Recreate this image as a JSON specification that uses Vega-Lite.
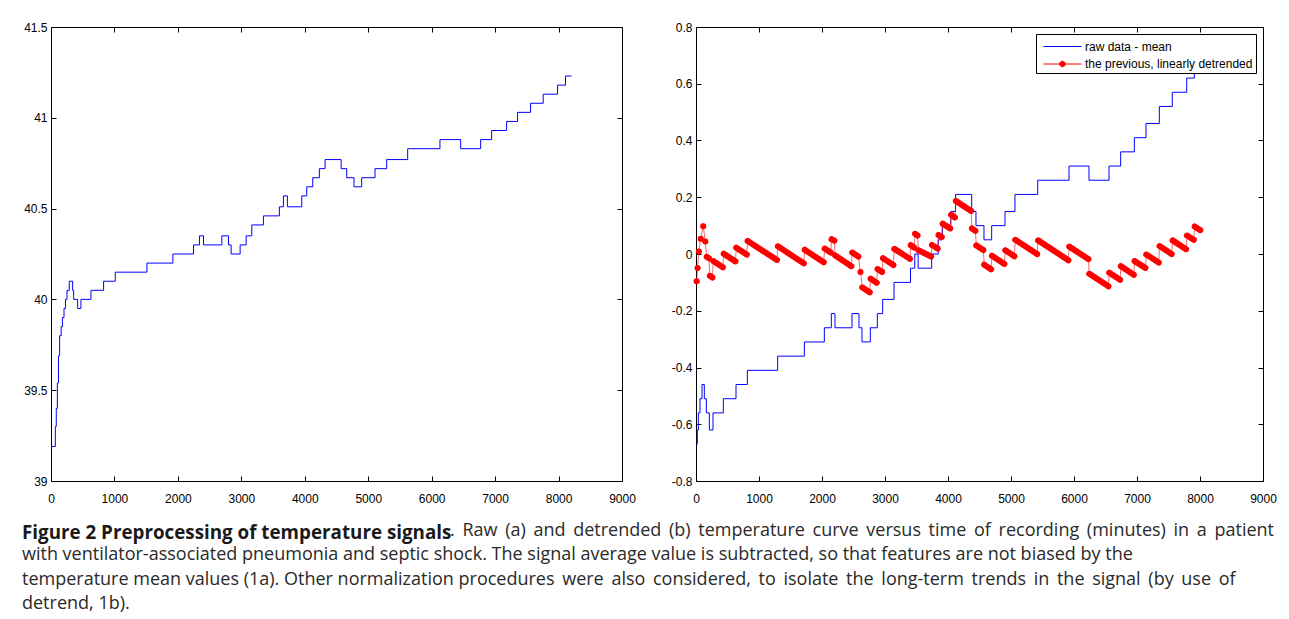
{
  "$schema": "https://vega.github.io/schema/vega-lite/v6.json",
  "padding": {"left": 22, "top": 21, "right": 5, "bottom": 2},
  "spacing": 74,
  "bounds": "flush",
  "resolve": {"legend": {"color": "independent", "shape": "independent"}},
  "datasets": {
    "raw": [
      {"t": 0, "temp": 39.19}, {"t": 68, "temp": 39.30}, {"t": 83, "temp": 39.40}, {"t": 100, "temp": 39.54},
      {"t": 118, "temp": 39.69}, {"t": 136, "temp": 39.80}, {"t": 160, "temp": 39.85}, {"t": 180, "temp": 39.90},
      {"t": 205, "temp": 39.95}, {"t": 228, "temp": 40.00}, {"t": 252, "temp": 40.05}, {"t": 288, "temp": 40.10},
      {"t": 341, "temp": 40.05}, {"t": 357, "temp": 40.00}, {"t": 420, "temp": 39.95}, {"t": 472, "temp": 40.00},
      {"t": 630, "temp": 40.05}, {"t": 829, "temp": 40.10}, {"t": 1013, "temp": 40.15}, {"t": 1512, "temp": 40.20},
      {"t": 1921, "temp": 40.25}, {"t": 2246, "temp": 40.30}, {"t": 2340, "temp": 40.35}, {"t": 2404, "temp": 40.30},
      {"t": 2693, "temp": 40.35}, {"t": 2797, "temp": 40.30}, {"t": 2839, "temp": 40.25}, {"t": 2981, "temp": 40.30},
      {"t": 3076, "temp": 40.35}, {"t": 3165, "temp": 40.41}, {"t": 3348, "temp": 40.46}, {"t": 3600, "temp": 40.51},
      {"t": 3663, "temp": 40.57}, {"t": 3726, "temp": 40.51}, {"t": 3953, "temp": 40.57}, {"t": 4031, "temp": 40.62},
      {"t": 4126, "temp": 40.67}, {"t": 4230, "temp": 40.72}, {"t": 4320, "temp": 40.77}, {"t": 4573, "temp": 40.72},
      {"t": 4661, "temp": 40.67}, {"t": 4776, "temp": 40.62}, {"t": 4897, "temp": 40.67}, {"t": 5107, "temp": 40.72},
      {"t": 5291, "temp": 40.77}, {"t": 5622, "temp": 40.83}, {"t": 6131, "temp": 40.88}, {"t": 6457, "temp": 40.83},
      {"t": 6772, "temp": 40.88}, {"t": 6945, "temp": 40.93}, {"t": 7181, "temp": 40.98}, {"t": 7354, "temp": 41.03},
      {"t": 7559, "temp": 41.08}, {"t": 7758, "temp": 41.13}, {"t": 7984, "temp": 41.18}, {"t": 8110, "temp": 41.23},
      {"t": 8205, "temp": 41.23}
    ],
    "centered": [
      {"t": 0, "v": -0.67}, {"t": 21, "v": -0.62}, {"t": 37, "v": -0.56}, {"t": 63, "v": -0.51},
      {"t": 95, "v": -0.46}, {"t": 132, "v": -0.51}, {"t": 164, "v": -0.56}, {"t": 212, "v": -0.62},
      {"t": 270, "v": -0.56}, {"t": 434, "v": -0.51}, {"t": 635, "v": -0.46}, {"t": 815, "v": -0.41},
      {"t": 1296, "v": -0.36}, {"t": 1720, "v": -0.31}, {"t": 2037, "v": -0.26}, {"t": 2148, "v": -0.21},
      {"t": 2206, "v": -0.26}, {"t": 2476, "v": -0.21}, {"t": 2587, "v": -0.26}, {"t": 2635, "v": -0.31},
      {"t": 2767, "v": -0.26}, {"t": 2878, "v": -0.21}, {"t": 2963, "v": -0.16}, {"t": 3143, "v": -0.10},
      {"t": 3405, "v": -0.05}, {"t": 3473, "v": 0.00}, {"t": 3526, "v": -0.05}, {"t": 3741, "v": 0.00},
      {"t": 3845, "v": 0.05}, {"t": 3910, "v": 0.10}, {"t": 4045, "v": 0.15}, {"t": 4120, "v": 0.21},
      {"t": 4376, "v": 0.15}, {"t": 4444, "v": 0.10}, {"t": 4571, "v": 0.05}, {"t": 4693, "v": 0.10},
      {"t": 4905, "v": 0.15}, {"t": 5063, "v": 0.21}, {"t": 5424, "v": 0.26}, {"t": 5921, "v": 0.31},
      {"t": 6238, "v": 0.26}, {"t": 6556, "v": 0.31}, {"t": 6741, "v": 0.36}, {"t": 6958, "v": 0.41},
      {"t": 7143, "v": 0.46}, {"t": 7354, "v": 0.52}, {"t": 7560, "v": 0.57}, {"t": 7789, "v": 0.62},
      {"t": 7910, "v": 0.67}, {"t": 8016, "v": 0.67}
    ],
    "detrended": [
      {"t": 10, "v": -0.096, "seg": 1}, {"t": 25, "v": -0.049, "seg": 2}, {"t": 45, "v": 0.009, "seg": 3},
      {"t": 75, "v": 0.054, "seg": 4}, {"t": 115, "v": 0.098, "seg": 5}, {"t": 148, "v": 0.044, "seg": 6},
      {"t": 170, "v": -0.010, "seg": 7}, {"t": 205, "v": -0.015, "seg": 7},
      {"t": 220, "v": -0.077, "seg": 8}, {"t": 260, "v": -0.083, "seg": 8},
      {"t": 275, "v": -0.025, "seg": 9}, {"t": 425, "v": -0.047, "seg": 9},
      {"t": 440, "v": 0.001, "seg": 10}, {"t": 625, "v": -0.026, "seg": 10},
      {"t": 640, "v": 0.022, "seg": 11}, {"t": 805, "v": -0.002, "seg": 11},
      {"t": 820, "v": 0.046, "seg": 12}, {"t": 1285, "v": -0.021, "seg": 12},
      {"t": 1300, "v": 0.027, "seg": 13}, {"t": 1710, "v": -0.033, "seg": 13},
      {"t": 1725, "v": 0.015, "seg": 14}, {"t": 2027, "v": -0.029, "seg": 14},
      {"t": 2042, "v": 0.019, "seg": 15}, {"t": 2138, "v": 0.005, "seg": 15},
      {"t": 2152, "v": 0.052, "seg": 16}, {"t": 2196, "v": 0.047, "seg": 16},
      {"t": 2210, "v": -0.005, "seg": 17}, {"t": 2466, "v": -0.043, "seg": 17},
      {"t": 2480, "v": 0.005, "seg": 18}, {"t": 2577, "v": -0.009, "seg": 18},
      {"t": 2610, "v": -0.063, "seg": 19},
      {"t": 2640, "v": -0.118, "seg": 20}, {"t": 2757, "v": -0.135, "seg": 20},
      {"t": 2772, "v": -0.087, "seg": 21}, {"t": 2868, "v": -0.101, "seg": 21},
      {"t": 2882, "v": -0.053, "seg": 22}, {"t": 2953, "v": -0.063, "seg": 22},
      {"t": 2968, "v": -0.015, "seg": 23}, {"t": 3133, "v": -0.039, "seg": 23},
      {"t": 3148, "v": 0.018, "seg": 24}, {"t": 3395, "v": -0.017, "seg": 24},
      {"t": 3410, "v": 0.031, "seg": 25}, {"t": 3463, "v": 0.023, "seg": 25},
      {"t": 3478, "v": 0.071, "seg": 26}, {"t": 3516, "v": 0.065, "seg": 26},
      {"t": 3531, "v": 0.013, "seg": 27}, {"t": 3731, "v": -0.009, "seg": 27},
      {"t": 3746, "v": 0.032, "seg": 28}, {"t": 3835, "v": 0.019, "seg": 28},
      {"t": 3850, "v": 0.067, "seg": 29}, {"t": 3900, "v": 0.060, "seg": 29},
      {"t": 3915, "v": 0.107, "seg": 30}, {"t": 4035, "v": 0.090, "seg": 30},
      {"t": 4050, "v": 0.138, "seg": 31}, {"t": 4110, "v": 0.129, "seg": 31},
      {"t": 4125, "v": 0.187, "seg": 32}, {"t": 4366, "v": 0.152, "seg": 32},
      {"t": 4380, "v": 0.090, "seg": 33}, {"t": 4434, "v": 0.082, "seg": 33},
      {"t": 4450, "v": 0.030, "seg": 34}, {"t": 4561, "v": 0.014, "seg": 34},
      {"t": 4575, "v": -0.038, "seg": 35}, {"t": 4683, "v": -0.054, "seg": 35},
      {"t": 4698, "v": -0.006, "seg": 36}, {"t": 4895, "v": -0.035, "seg": 36},
      {"t": 4910, "v": 0.013, "seg": 37}, {"t": 5053, "v": -0.008, "seg": 37},
      {"t": 5068, "v": 0.050, "seg": 38}, {"t": 5414, "v": 0.000, "seg": 38},
      {"t": 5430, "v": 0.048, "seg": 39}, {"t": 5911, "v": -0.022, "seg": 39},
      {"t": 5925, "v": 0.026, "seg": 40}, {"t": 6228, "v": -0.018, "seg": 40},
      {"t": 6243, "v": -0.070, "seg": 41}, {"t": 6546, "v": -0.114, "seg": 41},
      {"t": 6560, "v": -0.066, "seg": 42}, {"t": 6731, "v": -0.091, "seg": 42},
      {"t": 6745, "v": -0.043, "seg": 43}, {"t": 6948, "v": -0.073, "seg": 43},
      {"t": 6962, "v": -0.025, "seg": 44}, {"t": 7133, "v": -0.049, "seg": 44},
      {"t": 7148, "v": -0.002, "seg": 45}, {"t": 7344, "v": -0.030, "seg": 45},
      {"t": 7358, "v": 0.028, "seg": 46}, {"t": 7550, "v": 0.000, "seg": 46},
      {"t": 7565, "v": 0.048, "seg": 47}, {"t": 7779, "v": 0.017, "seg": 47},
      {"t": 7794, "v": 0.065, "seg": 48}, {"t": 7900, "v": 0.050, "seg": 48},
      {"t": 7915, "v": 0.097, "seg": 49}, {"t": 8005, "v": 0.084, "seg": 49}
    ],
    "legendKeys": []
  },
  "title": {
    "text": "Figure 2 Preprocessing of temperature signals",
    "subtitle": [
      "\u200b\u2003\u2003\u2003\u2003\u2003\u2003\u2003\u2003\u2003\u2003\u2003\u2003\u2003\u2003\u2003\u2003\u2003\u2003\u2003\u2003\u2003\u2003\u2003\u00a0\u00a0\u00a0. \u2009Raw \u2009(a) \u2009and \u2009detrended \u2009(b) \u2009temperature \u2009curve \u2009versus \u2009time \u2009of \u2009recording \u2009(minutes) \u2009in \u2009a \u2009patient",
      "with ventilator-associated pneumonia and septic shock. The signal average value is subtracted, so that features are not biased by the",
      "temperature mean values (1a). Other normalization procedures \u2009were \u2009also \u2009considered, \u2009to \u2009isolate \u2009the \u2009long-term \u2009trends \u2009in \u2009the \u2009signal \u2009(by \u2009use \u2009of",
      "detrend, 1b)."
    ],
    "orient": "bottom",
    "anchor": "start",
    "frame": "bounds",
    "offset": 20,
    "font": "Open Sans",
    "fontSize": 18.8,
    "fontWeight": "bold",
    "color": "#1a1a1a",
    "lineHeight": 26.7,
    "subtitleFont": "Open Sans",
    "subtitleFontSize": 18,
    "subtitleFontWeight": "normal",
    "subtitleColor": "#2a2a2a",
    "subtitleLineHeight": 24.5,
    "subtitlePadding": -21
  },
  "hconcat": [
    {
      "width": 571,
      "height": 454,
      "data": {"name": "raw"},
      "layer": [
        {
          "mark": {"type": "line", "interpolate": "step-after", "color": "#0000ff", "strokeWidth": 1},
          "encoding": {
            "x": {"field": "t", "type": "quantitative", "scale": {"domain": [0, 9000], "nice": false, "zero": false},
                  "axis": {"orient": "bottom", "values": [0,1000,2000,3000,4000,5000,6000,7000,8000,9000], "format": "d", "title": null, "labelPadding": 17, "labelFlush": false}},
            "y": {"field": "temp", "type": "quantitative", "scale": {"domain": [39, 41.5], "nice": false, "zero": false},
                  "axis": {"orient": "left", "values": [39, 39.5, 40, 40.5, 41, 41.5], "format": "~g", "title": null, "labelPadding": 9, "minExtent": 29, "maxExtent": 29}}
          }
        },
        {
          "mark": {"type": "line", "interpolate": "step-after", "opacity": 0},
          "encoding": {
            "x": {"field": "t", "type": "quantitative", "axis": {"orient": "top", "values": [0,1000,2000,3000,4000,5000,6000,7000,8000,9000], "labels": false, "title": null}},
            "y": {"field": "temp", "type": "quantitative", "axis": {"orient": "right", "values": [39, 39.5, 40, 40.5, 41, 41.5], "labels": false, "title": null, "minExtent": 0, "maxExtent": 0}}
          }
        }
      ],
      "resolve": {"axis": {"x": "independent", "y": "independent"}}
    },
    {
      "width": 567,
      "height": 454,
      "layer": [
        {
          "data": {"name": "centered"},
          "mark": {"type": "line", "interpolate": "step-after", "color": "#0000ff", "strokeWidth": 1},
          "encoding": {
            "x": {"field": "t", "type": "quantitative", "scale": {"domain": [0, 9000], "nice": false, "zero": false},
                  "axis": {"orient": "bottom", "values": [0,1000,2000,3000,4000,5000,6000,7000,8000,9000], "format": "d", "title": null, "labelPadding": 17, "labelFlush": false}},
            "y": {"field": "v", "type": "quantitative", "scale": {"domain": [-0.8, 0.8], "nice": false, "zero": false},
                  "axis": {"orient": "left", "values": [-0.8, -0.6, -0.4, -0.2, 0, 0.2, 0.4, 0.6, 0.8], "format": "~g", "title": null, "labelPadding": 9, "minExtent": 29, "maxExtent": 29}}
          }
        },
        {
          "data": {"name": "detrended"},
          "mark": {"type": "line", "color": "#ff0000", "strokeWidth": 1, "opacity": 0.6},
          "encoding": {
            "x": {"field": "t", "type": "quantitative", "axis": {"orient": "top", "values": [0,1000,2000,3000,4000,5000,6000,7000,8000,9000], "labels": false, "title": null}},
            "y": {"field": "v", "type": "quantitative", "axis": {"orient": "right", "values": [-0.8, -0.6, -0.4, -0.2, 0, 0.2, 0.4, 0.6, 0.8], "labels": false, "title": null, "minExtent": 0, "maxExtent": 0}}
          }
        },
        {
          "data": {"name": "detrended"},
          "mark": {"type": "line", "color": "#ff0000", "strokeWidth": 6, "strokeCap": "round"},
          "encoding": {
            "x": {"field": "t", "type": "quantitative", "axis": null},
            "y": {"field": "v", "type": "quantitative", "axis": null},
            "detail": {"field": "seg", "type": "nominal"}
          }
        },
        {
          "data": {"name": "detrended"},
          "mark": {"type": "circle", "color": "#ff0000", "size": 30, "opacity": 1},
          "encoding": {
            "x": {"field": "t", "type": "quantitative", "axis": null},
            "y": {"field": "v", "type": "quantitative", "axis": null}
          }
        },
        {
          "data": {"name": "legendKeys"},
          "mark": {"type": "point", "filled": false, "fill": "#ff0000", "strokeWidth": 1, "opacity": 1},
          "encoding": {
            "color": {"field": "series", "type": "nominal",
                      "scale": {"domain": ["raw data - mean", "the previous, linearly detrended"], "range": ["#0000ff", "#ff0000"]},
                      "legend": {"title": null, "orient": "top-right", "offset": 7, "padding": 3, "strokeColor": "black", "fillColor": "white", "labelFont": "Liberation Sans", "labelFontSize": 12, "labelColor": "black", "labelLimit": 0, "symbolSize": 324, "symbolOffset": 14, "symbolStrokeWidth": 1, "symbolStrokeColor": "black", "symbolFillColor": "#ff0000", "labelOffset": 13, "rowPadding": 1.5}},
            "shape": {"field": "series", "type": "nominal",
                      "scale": {"domain": ["raw data - mean", "the previous, linearly detrended"], "range": ["M-2.11,0H2.11", "M-2.11,0H2.11M-0.31,0A0.31,0.31,0,1,1,0.31,0A0.31,0.31,0,1,1,-0.31,0"]},
                      "legend": {"title": null, "orient": "top-right", "offset": 7, "padding": 3, "strokeColor": "black", "fillColor": "white", "labelFont": "Liberation Sans", "labelFontSize": 12, "labelColor": "black", "labelLimit": 0, "symbolSize": 324, "symbolOffset": 14, "symbolStrokeWidth": 1, "symbolStrokeColor": "black", "symbolFillColor": "#ff0000", "labelOffset": 13, "rowPadding": 1.5}}
          }
        }
      ],
      "resolve": {"axis": {"x": "independent", "y": "independent"}}
    }
  ],
  "config": {
    "locale": {"number": {"decimal": ".", "thousands": "", "grouping": [3], "currency": ["", ""], "minus": "-"}},
    "view": {"stroke": null},
    "axis": {
      "domainColor": "black", "domainWidth": 1, "tickColor": "black", "tickWidth": 1, "tickSize": -5,
      "labelColor": "black", "labelFont": "Liberation Sans", "labelFontSize": 12, "grid": false
    }
  }
}
